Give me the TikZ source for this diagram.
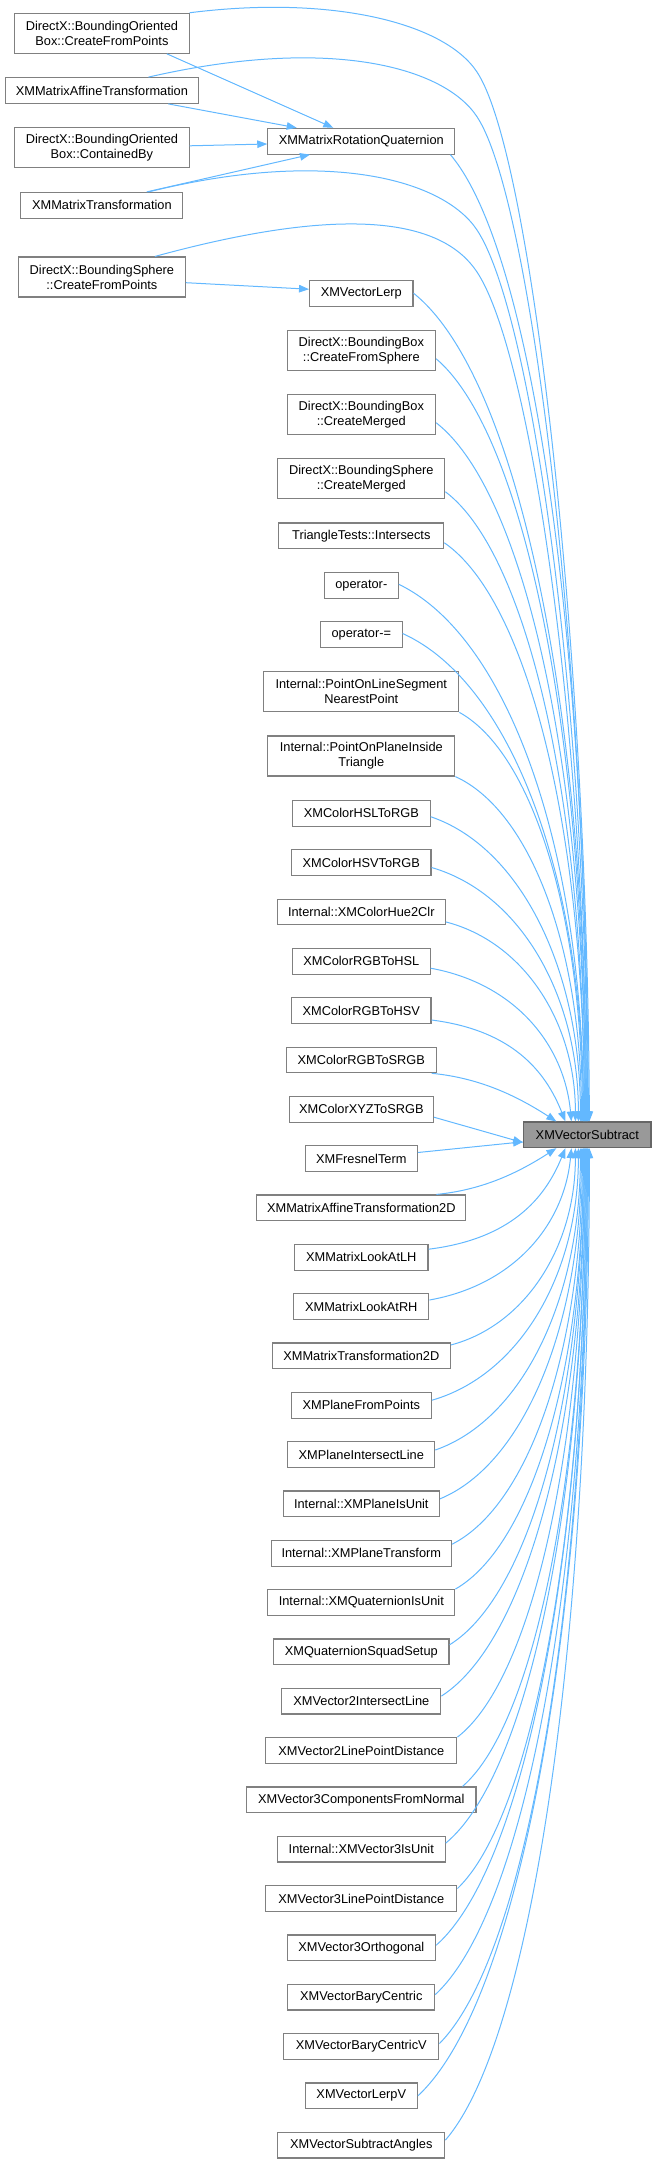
\documentclass[tikz,border=0pt]{standalone}
\usepackage{fontspec}
\setmainfont{Liberation Sans}
\usetikzlibrary{arrows.meta,calc}
\definecolor{edgec}{HTML}{63B8FF}
\definecolor{boxc}{HTML}{808080}
\definecolor{tfill}{HTML}{999999}
\definecolor{tdraw}{HTML}{666666}
\tikzset{
 fn/.style={draw=boxc, line width=1.1pt, fill=white, inner sep=0pt, align=center, font=\fontsize{12.8pt}{15pt}\selectfont, minimum height=25.7pt},
 two/.style={minimum height=40pt},
 tgt/.style={fn, fill=tfill, draw=tdraw},
 calledge/.style={draw=edgec, line width=1pt, -{Triangle[length=10pt,width=7.5pt]}}
}
\newcommand\cedge[4]{\draw[calledge] let \p0=(#1), \p3=(#2) in (\p0) .. controls ({\x0+#4*(\x3-\x0)},{\y0+0.1*(\y3-\y0)}) and ({\x3-#3*(\x3-\x0)},{\y3-0.5*(\y3-\y0)}) .. (\p3);}
\begin{document}
\begin{tikzpicture}[x=1pt,y=-1pt]
\useasboundingbox (0,0) rectangle (656,2163);
% column 1
\node[fn,two,minimum width=174.5pt] (n1) at (101.9,33.3) {DirectX::BoundingOriented\\Box::CreateFromPoints};
\node[fn,minimum width=193.7pt] (n2) at (101.9,90.5) {XMMatrixAffineTransformation};
\node[fn,two,minimum width=174.5pt] (n3) at (101.9,147.8) {DirectX::BoundingOriented\\Box::ContainedBy};
\node[fn,minimum width=162pt] (n4) at (101.9,205.3) {XMMatrixTransformation};
\node[fn,two,minimum width=167pt] (n5) at (101.9,277) {DirectX::BoundingSphere\\::CreateFromPoints};
% column 2
\node[fn,minimum width=187pt] (rq) at (361.3,141.2) {XMMatrixRotationQuaternion};
\node[fn,minimum width=103.4pt] (lerp) at (361.3,293.2) {XMVectorLerp};
\node[fn,two,minimum width=148.5pt] (c1) at (361.3,350.7) {DirectX::BoundingBox\\::CreateFromSphere};
\node[fn,two,minimum width=148.5pt] (c2) at (361.3,414.7) {DirectX::BoundingBox\\::CreateMerged};
\node[fn,two,minimum width=167pt] (c3) at (361.3,478.7) {DirectX::BoundingSphere\\::CreateMerged};
\node[fn,minimum width=165pt] (c4) at (361.3,535.8) {TriangleTests::Intersects};
\node[fn,minimum width=74pt] (c5) at (361.3,585.3) {operator-};
\node[fn,minimum width=81.5pt] (c6) at (361.3,634.5) {operator-=};
\node[fn,two,minimum width=195pt] (c7) at (361.3,691.8) {Internal::PointOnLineSegment\\NearestPoint};
\node[fn,two,minimum width=187pt] (c8) at (361.3,756) {Internal::PointOnPlaneInside\\Triangle};
\node[fn,minimum width=137.6pt] (c9) at (361.3,813.2) {XMColorHSLToRGB};
\node[fn,minimum width=139.4pt] (c10) at (361.3,862.5) {XMColorHSVToRGB};
\node[fn,minimum width=167.8pt] (c11) at (361.3,911.9) {Internal::XMColorHue2Clr};
\node[fn,minimum width=137.6pt] (c12) at (361.3,961.2) {XMColorRGBToHSL};
\node[fn,minimum width=139.4pt] (c13) at (361.3,1010.5) {XMColorRGBToHSV};
\node[fn,minimum width=149.8pt] (c14) at (361.3,1059.9) {XMColorRGBToSRGB};
\node[fn,minimum width=144.3pt] (c15) at (361.3,1109.2) {XMColorXYZToSRGB};
\node[fn,minimum width=112.1pt] (c16) at (361.3,1158.5) {XMFresnelTerm};
\node[fn,minimum width=209.2pt] (c17) at (361.3,1207.8) {XMMatrixAffineTransformation2D};
\node[fn,minimum width=133.4pt] (c18) at (361.3,1257.2) {XMMatrixLookAtLH};
\node[fn,minimum width=135.2pt] (c19) at (361.3,1306.5) {XMMatrixLookAtRH};
\node[fn,minimum width=177.8pt] (c20) at (361.3,1355.8) {XMMatrixTransformation2D};
\node[fn,minimum width=140.2pt] (c21) at (361.3,1405.2) {XMPlaneFromPoints};
\node[fn,minimum width=146.8pt] (c22) at (361.3,1454.5) {XMPlaneIntersectLine};
\node[fn,minimum width=156.4pt] (c23) at (361.3,1503.8) {Internal::XMPlaneIsUnit};
\node[fn,minimum width=180.4pt] (c24) at (361.3,1553.2) {Internal::XMPlaneTransform};
\node[fn,minimum width=187pt] (c25) at (361.3,1602.5) {Internal::XMQuaternionIsUnit};
\node[fn,minimum width=175.4pt] (c26) at (361.3,1651.8) {XMQuaternionSquadSetup};
\node[fn,minimum width=159pt] (c27) at (361.3,1701.1) {XMVector2IntersectLine};
\node[fn,minimum width=191.2pt] (c28) at (361.3,1750.5) {XMVector2LinePointDistance};
\node[fn,minimum width=229.3pt] (c29) at (361.3,1799.8) {XMVector3ComponentsFromNormal};
\node[fn,minimum width=167.8pt] (c30) at (361.3,1849.1) {Internal::XMVector3IsUnit};
\node[fn,minimum width=191.2pt] (c31) at (361.3,1898.5) {XMVector3LinePointDistance};
\node[fn,minimum width=148.5pt] (c32) at (361.3,1947.8) {XMVector3Orthogonal};
\node[fn,minimum width=146.8pt] (c33) at (361.3,1997.1) {XMVectorBaryCentric};
\node[fn,minimum width=155.2pt] (c34) at (361.3,2046.5) {XMVectorBaryCentricV};
\node[fn,minimum width=112.1pt] (c35) at (361.3,2095.8) {XMVectorLerpV};
\node[fn,minimum width=167pt] (c36) at (361.3,2145.1) {XMVectorSubtractAngles};
% target
\node[tgt,minimum width=127.3pt,minimum height=25.6pt] (t) at (587.3,1134.8) {XMVectorSubtract};
% column 1 -> column 2
\draw[calledge] ([xshift=65pt]n1.south) -- ([xshift=-28pt]rq.north);
\draw[calledge] ([xshift=66.4pt]n2.south) -- ([xshift=-64.6pt]rq.north);
\draw[calledge] ([yshift=2pt]n3.east) -- ([yshift=-2.8pt]rq.west);
\draw[calledge] ([xshift=44.8pt]n4.north) -- ([xshift=-51.3pt]rq.south);
\draw[calledge] ([yshift=-5.7pt]n5.east) -- ([yshift=4pt]lerp.west);
% column 1 arcs -> target
\draw[calledge] (n1.north east) .. controls (330,-5) and (444,22) .. (477,72) .. controls (532,155) and (587,650) .. ([xshift=66.3pt]t.north west);
\draw[calledge] ([xshift=46.6pt]n2.north) .. controls (329,35.7) and (444,66.7) .. (477,116.7) .. controls (532,199.7) and (587,670) .. ([xshift=65.3pt]t.north west);
\draw[calledge] ([xshift=46.6pt]n4.north) .. controls (329,147.3) and (444,180) .. (477,230) .. controls (532,313) and (587,710) .. ([xshift=64.3pt]t.north west);
\draw[calledge] ([xshift=53pt]n5.north) .. controls (354,202) and (444,222) .. (477,272) .. controls (532,355) and (586,740) .. ([xshift=63.3pt]t.north west);
% upper column 2 -> target
\cedge{[xshift=-5pt]rq.south east}{[xshift=64.3pt]t.north west}{0}{0.6}
\cedge{lerp.east}{[xshift=63.3pt]t.north west}{0}{0.6}
\cedge{[yshift=-8pt]c1.east}{[xshift=62.3pt]t.north west}{0}{0.6}
\cedge{[yshift=-8pt]c2.east}{[xshift=62.3pt]t.north west}{0}{0.6}
\cedge{[yshift=-13pt]c3.east}{[xshift=61.3pt]t.north west}{0}{0.6}
\cedge{[yshift=-7pt]c4.east}{[xshift=61.3pt]t.north west}{0}{0.6}
\cedge{[yshift=1pt]c5.east}{[xshift=60.3pt]t.north west}{0}{0.6}
\cedge{[yshift=1pt]c6.east}{[xshift=60.3pt]t.north west}{0}{0.6}
\cedge{c7.south east}{[xshift=59.3pt]t.north west}{0}{0.6}
\cedge{c8.south east}{[xshift=58.3pt]t.north west}{0}{0.6}
\cedge{[yshift=-3.5pt]c9.east}{[xshift=57.3pt]t.north west}{0}{0.6}
\cedge{[yshift=-5pt]c10.east}{[xshift=55.3pt]t.north west}{0}{0.6}
\cedge{[yshift=-10pt]c11.east}{[xshift=52.3pt]t.north west}{0}{0.6}
\cedge{[yshift=-7pt]c12.east}{[xshift=48.3pt]t.north west}{0.05}{0.6}
\cedge{[yshift=-9.5pt]c13.east}{[xshift=42.3pt]t.north west}{0.15}{0.6}
\cedge{[xshift=-5pt]c14.south east}{[xshift=33.3pt]t.north west}{0.3}{0.4}
% direct
\draw[calledge] ([yshift=-8pt]c15.east) -- ([yshift=-7.8pt]t.west);
\draw[calledge] ([yshift=6pt]c16.east) -- ([yshift=-7pt]t.west);
% lower column 2 -> target
\cedge{[xshift=-30pt]c17.north east}{[xshift=33.3pt]t.south west}{0.3}{0.4}
\cedge{[yshift=8pt]c18.east}{[xshift=42.3pt]t.south west}{0.15}{0.6}
\cedge{[yshift=6.5pt]c19.east}{[xshift=48.3pt]t.south west}{0.05}{0.6}
\cedge{[yshift=10.8pt]c20.east}{[xshift=52.3pt]t.south west}{0}{0.6}
\cedge{[yshift=5pt]c21.east}{[xshift=55.3pt]t.south west}{0}{0.6}
\cedge{[yshift=4.5pt]c22.east}{[xshift=57.3pt]t.south west}{0}{0.6}
\cedge{[yshift=5pt]c23.east}{[xshift=58.3pt]t.south west}{0}{0.6}
\cedge{[yshift=9pt]c24.east}{[xshift=59.3pt]t.south west}{0}{0.6}
\cedge{c25.north east}{[xshift=60.3pt]t.south west}{0}{0.6}
\cedge{[yshift=7pt]c26.east}{[xshift=60.3pt]t.south west}{0}{0.6}
\cedge{[yshift=5pt]c27.east}{[xshift=61.3pt]t.south west}{0}{0.6}
\cedge{c28.north east}{[xshift=61.3pt]t.south west}{0}{0.6}
\cedge{[xshift=-14pt]c29.north east}{[xshift=62.3pt]t.south west}{0}{0.6}
\cedge{[yshift=6pt]c30.east}{[xshift=62.3pt]t.south west}{0}{0.6}
\cedge{[yshift=10pt]c31.east}{[xshift=63.3pt]t.south west}{0}{0.6}
\cedge{[yshift=2.5pt]c32.east}{[xshift=63.3pt]t.south west}{0}{0.6}
\cedge{[yshift=2.5pt]c33.east}{[xshift=64.3pt]t.south west}{0}{0.6}
\cedge{[yshift=3pt]c34.east}{[xshift=64.3pt]t.south west}{0}{0.6}
\cedge{c35.east}{[xshift=65.3pt]t.south west}{0}{0.6}
\cedge{[yshift=5pt]c36.east}{[xshift=66.3pt]t.south west}{0}{0.6}
\end{tikzpicture}
\end{document}
